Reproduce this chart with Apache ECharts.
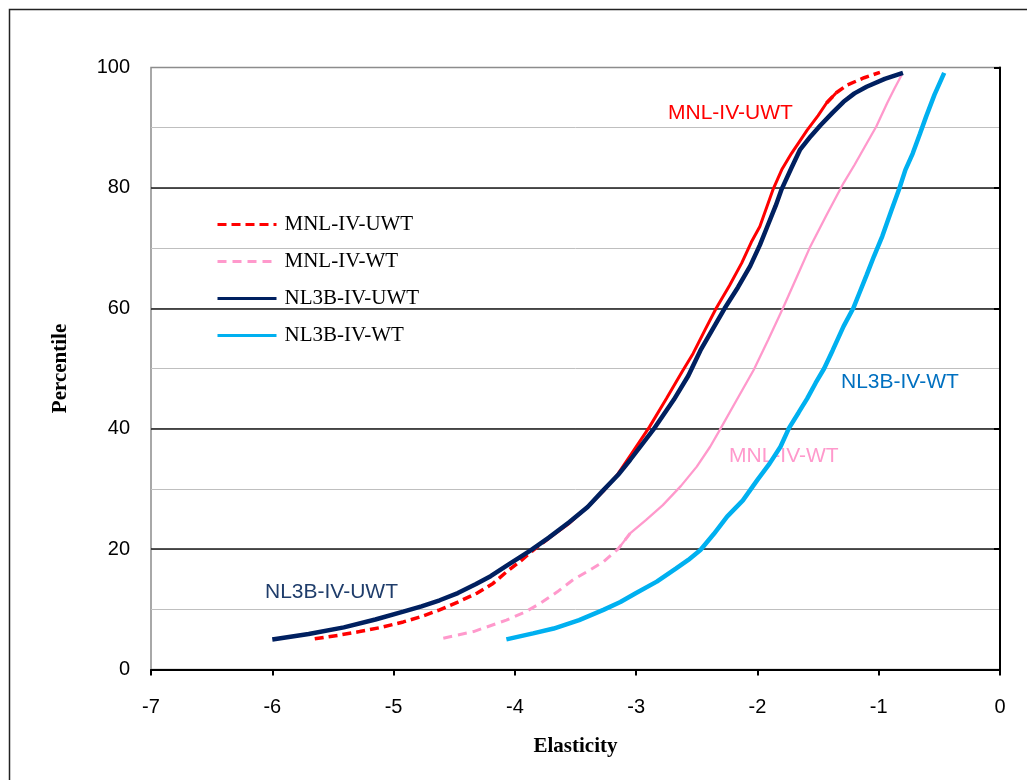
<!DOCTYPE html>
<html>
<head>
<meta charset="utf-8">
<script src="https://cdn.jsdelivr.net/npm/echarts@6/dist/echarts.min.js"></script>
<style>
  html, body { margin: 0; padding: 0; background: #fff; }
  #chart { width: 1027px; height: 780px; }
</style>
</head>
<body>
<div id="chart"></div>
<script>
// elasticity (x) , percentile (y)
var mnlUwt = [[-5.65,5.1],[-5.45,5.7],[-5.28,6.3],[-5.1,7.0],[-4.92,7.9],[-4.77,8.8],[-4.62,9.9],[-4.47,11.2],[-4.31,12.7],[-4.18,14.3],[-4.07,16.2],[-3.96,17.9],[-3.85,19.8],[-3.72,21.8],[-3.55,24.3],[-3.4,27.0],[-3.27,29.6],[-3.15,32.5],[-3.05,35.5],[-2.89,40.3],[-2.75,45.0],[-2.62,49.5],[-2.53,52.5],[-2.43,56.5],[-2.34,60.0],[-2.23,63.8],[-2.13,67.5],[-2.05,71.0],[-1.98,73.6],[-1.87,79.8],[-1.8,83.0],[-1.72,85.7],[-1.59,89.6],[-1.5,92.0],[-1.43,94.1],[-1.35,95.8],[-1.26,97.1],[-1.12,98.3],[-0.99,99.2]];
var mnlWt = [[-4.59,5.2],[-4.34,6.3],[-4.07,8.2],[-3.92,9.5],[-3.79,11.0],[-3.65,12.9],[-3.52,14.9],[-3.4,16.3],[-3.27,17.9],[-3.15,20.0],[-3.05,22.6],[-2.92,24.8],[-2.78,27.3],[-2.63,30.5],[-2.5,33.7],[-2.39,37.0],[-2.31,39.8],[-2.17,44.8],[-2.03,49.8],[-1.91,54.8],[-1.79,60.0],[-1.68,65.0],[-1.57,70.0],[-1.43,75.5],[-1.29,80.8],[-1.2,83.8],[-1.13,86.3],[-1.02,90.2],[-0.93,94.1],[-0.87,96.5],[-0.81,98.8]];
var nl3bUwt = [[-6.0,5.0],[-5.7,5.9],[-5.41,7.0],[-5.15,8.3],[-4.92,9.6],[-4.77,10.5],[-4.62,11.5],[-4.47,12.7],[-4.32,14.2],[-4.2,15.5],[-4.07,17.2],[-3.87,19.8],[-3.72,21.9],[-3.55,24.5],[-3.4,27.0],[-3.27,29.8],[-3.15,32.3],[-3.05,34.8],[-2.86,39.8],[-2.69,44.8],[-2.57,48.8],[-2.47,53.0],[-2.37,56.5],[-2.27,60.0],[-2.16,63.5],[-2.06,67.0],[-1.98,70.5],[-1.92,73.5],[-1.85,77.0],[-1.8,79.8],[-1.72,83.3],[-1.65,86.3],[-1.56,88.6],[-1.48,90.4],[-1.38,92.5],[-1.29,94.3],[-1.2,95.7],[-1.1,96.8],[-0.95,98.1],[-0.8,99.1]];
var nl3bWt = [[-4.07,5.0],[-3.85,6.0],[-3.68,6.8],[-3.47,8.2],[-3.27,9.9],[-3.13,11.2],[-3.0,12.7],[-2.83,14.6],[-2.67,16.8],[-2.57,18.2],[-2.47,19.85],[-2.36,22.5],[-2.25,25.4],[-2.12,28.1],[-2.0,31.5],[-1.9,34.2],[-1.81,37.0],[-1.74,40.1],[-1.66,42.7],[-1.59,45.0],[-1.52,47.6],[-1.45,50.0],[-1.38,53.0],[-1.29,57.0],[-1.21,60.0],[-1.16,62.5],[-1.1,65.5],[-1.04,68.6],[-0.97,72.0],[-0.9,76.0],[-0.83,79.9],[-0.78,83.0],[-0.72,85.7],[-0.66,89.0],[-0.61,91.8],[-0.54,95.5],[-0.46,99.1]];

var seriesNames = ['MNL-IV-UWT', 'MNL-IV-WT', 'NL3B-IV-UWT', 'NL3B-IV-WT'];

// the excel dashes only show where points are sparse, so split the dashed lines
function part(data, lo, hi) {
  var out = [];
  for (var i = 0; i < data.length; i++) {
    var y = data[i][1];
    if (y >= lo && y <= hi) out.push(data[i]);
  }
  // join with neighbours so the pieces touch
  var first = data.indexOf(out[0]), last = data.indexOf(out[out.length - 1]);
  if (first > 0) out.unshift(data[first - 1]);
  if (last < data.length - 1) out.push(data[last + 1]);
  return out;
}

function line(name, data, color, width, type) {
  return {
    name: name, type: 'line', data: data,
    symbol: 'none', showSymbol: false, smooth: false,
    lineStyle: { color: color, width: width, type: type, cap: 'butt' },
    itemStyle: { color: color }
  };
}

var chart = echarts.init(document.getElementById('chart'));
var option = {
  animation: false,
  backgroundColor: '#fff',
  grid: { left: 151, right: 27, top: 67.5, bottom: 110.5, show: true, borderColor: '#8c8c8c', borderWidth: 1.5 },
  legend: {
    data: seriesNames,
    orient: 'vertical',
    left: 216, top: 214, padding: 0,
    itemWidth: 59, itemHeight: 14, itemGap: 16,
    selectedMode: false,
    itemStyle: { opacity: 0 },
    lineStyle: { width: 3 },
    textStyle: { fontFamily: 'Liberation Serif', fontSize: 21, color: '#000', padding: [0, 0, 0, 3] }
  },
  xAxis: {
    type: 'value', min: -7, max: 0, interval: 1, z: 3,
    name: 'Elasticity', nameLocation: 'middle', nameGap: 67,
    nameTextStyle: { fontFamily: 'Liberation Serif', fontWeight: 'bold', fontSize: 21, color: '#000' },
    axisLine: { onZero: false, lineStyle: { color: '#000', width: 2 } },
    axisTick: { length: 6, lineStyle: { color: '#000', width: 2 } },
    axisLabel: { margin: 28, fontSize: 20, fontFamily: 'Liberation Sans', color: '#000' },
    splitLine: { show: false }
  },
  yAxis: [{
    type: 'value', min: 0, max: 100, interval: 20, z: 3,
    name: 'Percentile', nameLocation: 'middle', nameGap: 80, nameRotate: 90,
    nameTextStyle: { fontFamily: 'Liberation Serif', fontWeight: 'bold', fontSize: 21, color: '#000' },
    axisLine: { show: true, lineStyle: { color: '#000', width: 2 } },
    axisTick: { show: true, length: 6, lineStyle: { color: '#000', width: 2 } },
    axisLabel: { margin: 21, fontSize: 20, fontFamily: 'Liberation Sans', color: '#000' },
    splitLine: { show: true, showMaxLine: false, lineStyle: { color: '#1a1a1a', width: 1.5 } }
  }, {
    type: 'value', min: 0, max: 100, interval: 10, position: 'left', z: 1,
    axisLine: { show: false }, axisTick: { show: false }, axisLabel: { show: false },
    splitLine: { show: true, showMaxLine: false, lineStyle: { color: '#bfbfbf', width: 1 } }
  }],
  series: [
    line('MNL-IV-UWT', part(mnlUwt, 0, 21), '#ff0000', 3.5, [9, 5]),
    line('MNL-IV-UWT', part(mnlUwt, 22, 95), '#ff0000', 3, 'solid'),
    line('MNL-IV-UWT', part(mnlUwt, 95.5, 100), '#ff0000', 3.5, [9, 5]),
    line('MNL-IV-WT', part(mnlWt, 0, 20), '#ff99cc', 3, [9, 6]),
    line('MNL-IV-WT', part(mnlWt, 21, 100), '#ff99cc', 2.3, 'solid'),
    line('NL3B-IV-WT', nl3bWt, '#00b0f0', 4.5, 'solid'),
    line('NL3B-IV-UWT', nl3bUwt, '#002060', 4.5, 'solid')
  ],
  graphic: [
    { type: 'rect', left: 7, top: 7, silent: true, z: -10,
      shape: { width: 1100, height: 900 }, style: { fill: 'none', stroke: '#222', lineWidth: 1.5 } },
    { type: 'text', left: 668, top: 103, style: { text: 'MNL-IV-UWT', fill: '#ff0000', font: '21px "Liberation Sans"' } },
    { type: 'text', left: 729, top: 446, style: { text: 'MNL-IV-WT', fill: '#ff99cc', font: '21px "Liberation Sans"' } },
    { type: 'text', left: 841, top: 372, style: { text: 'NL3B-IV-WT', fill: '#0070c0', font: '21px "Liberation Sans"' } },
    { type: 'text', left: 265, top: 582, style: { text: 'NL3B-IV-UWT', fill: '#1f3d6b', font: '21px "Liberation Sans"' } }
  ]
};
chart.setOption(option);
</script>
</body>
</html>
